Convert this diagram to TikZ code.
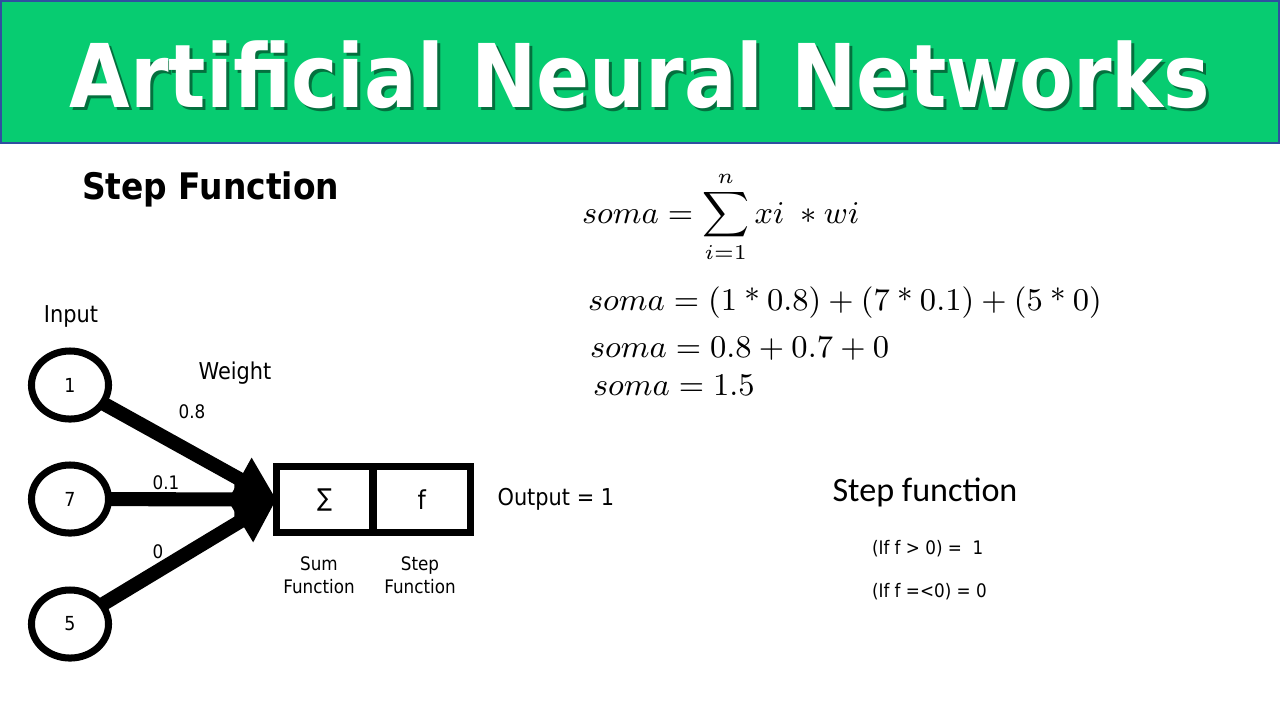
\documentclass[tikz,border=0pt]{standalone}
\usepackage{fontspec}
\usepackage{amsmath}
\usetikzlibrary{positioning, arrows.meta, shapes.geometric}
\newfontfamily\tahoma{DejaVu Sans}[FakeStretch=0.9]
\newfontfamily\bannerfont{DejaVu Sans}[FakeStretch=0.89]
\newfontfamily\calib{Carlito}
\definecolor{bannergreen}{RGB}{7,204,113}
\definecolor{bannerblue}{RGB}{48,80,160}

\begin{document}
\begin{tikzpicture}[x=0.01cm, y=-0.01cm,
  every node/.style={inner sep=0pt, outer sep=0pt},
  innode/.style={draw, ellipse, line width=2pt, minimum width=0.77cm, minimum height=0.68cm,
    font=\tahoma\fontsize{5.5}{6}\selectfont},
  lbl/.style={font=\tahoma\fontsize{6.6}{8}\selectfont},
  smalllbl/.style={font=\tahoma\fontsize{5.3}{6.6}\selectfont},
  fnbox/.style={draw, line width=2pt, minimum height=0.66cm},
  link/.style={line width=4pt, -{Triangle[length=0.42cm, width=0.46cm]}}]
  % page and banner
  \fill[white] (0,0) rectangle (1280,720);
  \useasboundingbox (0,0) rectangle (1280,720);
  \fill[bannergreen] (0,0) rectangle (1280,144);
  \draw[bannerblue, line width=0.6pt] (1,1) rectangle (1279,143);
  \node[anchor=base, text=black!45!bannergreen, font=\bannerfont\bfseries\fontsize{25}{30}\selectfont] (titleshadow) at (643,110) {Artificial Neural Networks};
  \node[anchor=base, text=white, font=\bannerfont\bfseries\fontsize{25}{30}\selectfont] (title) at (640,107) {Artificial Neural Networks};
  \node[anchor=base west, font=\tahoma\bfseries\fontsize{10.4}{12}\selectfont] (header) at (82,199) {Step Function};
  % equations
  \node[anchor=west, font=\fontsize{9}{11}\selectfont] (eqsum) at (582,217) {$\displaystyle soma = \sum_{i=1}^{n} xi \;\ast wi$};
  \node[anchor=base west, font=\fontsize{8.6}{10}\selectfont] (eqa) at (588,310) {$soma = (1 \mathbin{\text{*}} 0.8) + (7 \mathbin{\text{*}} 0.1) + (5 \mathbin{\text{*}} 0)$};
  \node[anchor=base west, font=\fontsize{8.6}{10}\selectfont] (eqb) at (590,357) {$soma = 0.8 + 0.7 + 0$};
  \node[anchor=base west, font=\fontsize{8.6}{10}\selectfont] (eqc) at (593,395) {$soma = 1.5$};
  % step function rule
  \node[font=\calib\fontsize{9.7}{12}\selectfont] (rulehead) at (925,492) {Step function};
  \node[anchor=base west, smalllbl] (ruleone) at (872,554) {(If f > 0) =\ \ 1};
  \node[anchor=base west, smalllbl] (ruletwo) at (872,597) {(If f =<0) = 0};
  % inputs
  \node[innode] (x1) at (70,385) {1};
  \node[innode] (x2) at (70,499) {7};
  \node[innode] (x3) at (70,624) {5};
  \node[lbl] (inlabel) at (71,316) {Input};
  % sum and step boxes
  \node[fnbox, minimum width=0.965cm, font=\tahoma\fontsize{7}{8}\selectfont] (sum) at (324.7,499.5) {∑};
  \node[fnbox, minimum width=0.975cm, right=0pt of sum, font=\tahoma\fontsize{7.4}{8}\selectfont] (stepf) {f};
  \node[smalllbl, align=center] (sumlbl) at (319,575) {Sum\\Function};
  \node[smalllbl, align=center] (steplbl) at (420,575) {Step\\Function};
  \node[lbl, right=0.27cm of stepf] (output) {Output = 1};
  % weighted links
  \draw[link] (x1) -- (sum.west);
  \draw[link] (x2) -- (sum.west);
  \draw[link] (x3) -- (sum.west);
  \node[lbl] (wlabel) at (235,373) {Weight};
  \node[smalllbl] (w1) at (192,412) {0.8};
  \node[smalllbl] (w2) at (166,483) {0.1};
  \node[smalllbl] (w3) at (158,552) {0};
\end{tikzpicture}
\end{document}
